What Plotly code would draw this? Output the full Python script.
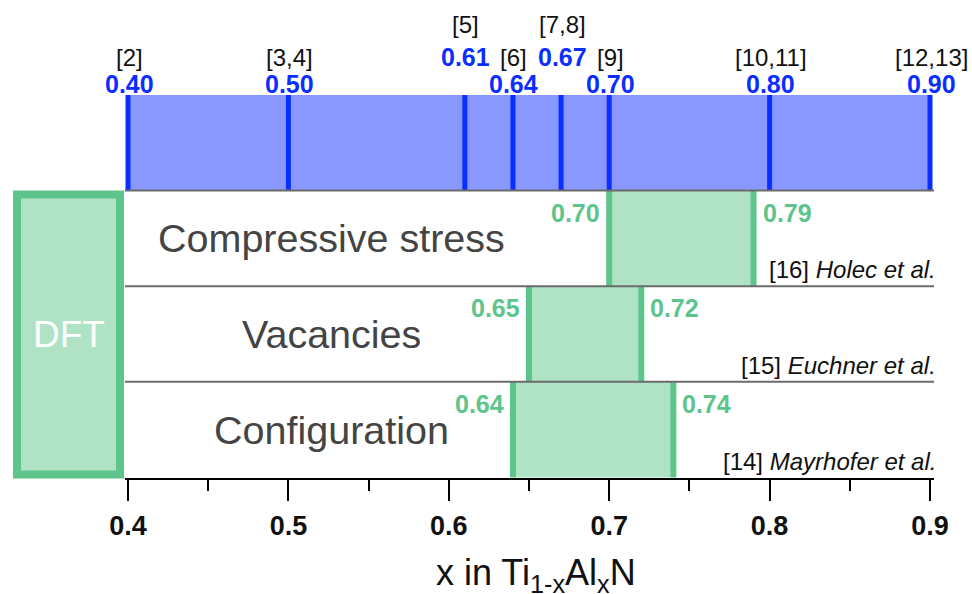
import plotly.graph_objects as go

# ---- data ----
blue_vals = [0.40, 0.50, 0.61, 0.64, 0.67, 0.70, 0.80, 0.90]
blue_refs = ["[2]", "[3,4]", "[5]", "[6]", "[7,8]", "[9]", "[10,11]", "[12,13]"]

categories = ["Compressive stress", "Vacancies", "Configuration"]
range_lo = [0.70, 0.65, 0.64]
range_hi = [0.79, 0.72, 0.74]
cite_refs = ["[16]", "[15]", "[14]"]
cite_auth = ["Holec et al.", "Euchner et al.", "Mayrhofer et al."]

tick_vals = [0.4, 0.5, 0.6, 0.7, 0.8, 0.9]
minor_vals = [0.45, 0.55, 0.65, 0.75, 0.85]

# ---- styling / layout constants ----
W, H = 972, 594
PX_PER_TENTH = 160.4
s = 0.1 / PX_PER_TENTH
X0, X1 = 0.4 - 3 * s, 0.9 + 4 * s
DOM = [125 / W, 934 / W]
U = 95.6           # px per band
TOP = 95           # px of band top
YR = [(H - TOP) / U, -TOP / U]

BLUE_FILL = "#8898FF"
BLUE_LINE = "#0A2EFF"
GREEN_FILL = "#B0E3C5"
GREEN_LINE = "#5DC58B"
GRAY = "#6b6b6b"
FONT = "Liberation Sans, Arial, Helvetica, sans-serif"

fig = go.Figure()

# blue band
fig.add_shape(type="rect", xref="x", yref="y", x0=min(blue_vals), x1=max(blue_vals),
              y0=0, y1=1, fillcolor=BLUE_FILL, line_width=0, layer="below")
bx, by = [], []
for v in blue_vals:
    bx += [v, v, None]
    by += [0, 1, None]
fig.add_trace(go.Scatter(x=bx, y=by, mode="lines", line=dict(color=BLUE_LINE, width=5),
                         hoverinfo="skip", showlegend=False))

# stagger labels of close values
levels = []
for i, v in enumerate(blue_vals):
    close_prev = i > 0 and abs(v - blue_vals[i - 1]) < 0.05
    close_next = i < len(blue_vals) - 1 and abs(blue_vals[i + 1] - v) < 0.05
    if close_prev:
        levels.append(1 - levels[-1])
    elif close_next:
        levels.append(1)
    else:
        levels.append(0)

for v, r, lv in zip(blue_vals, blue_refs, levels):
    vshift = 11.5 if lv == 0 else 38.5
    rshift = 38 if lv == 0 else 71
    fig.add_annotation(x=v, y=0, xref="x", yref="y", text=f"<b>{v:.2f}</b>", showarrow=False,
                       yanchor="middle", xanchor="center", yshift=vshift, xshift=1,
                       font=dict(family=FONT, size=25, color=BLUE_LINE))
    fig.add_annotation(x=v, y=0, xref="x", yref="y", text=r, showarrow=False,
                       yanchor="middle", xanchor="center", yshift=rshift, xshift=1,
                       font=dict(family=FONT, size=24, color="#111111"))

# green ranges
for i, (cat, lo, hi, cr, ca) in enumerate(zip(categories, range_lo, range_hi, cite_refs, cite_auth)):
    r0 = i + 1
    fig.add_trace(go.Scatter(x=[lo, hi, hi, lo, lo], y=[r0, r0, r0 + 1, r0 + 1, r0],
                             mode="lines", fill="toself", fillcolor=GREEN_FILL,
                             line=dict(width=0), hoverinfo="skip", showlegend=False))
    fig.add_trace(go.Scatter(x=[lo, lo, None, hi, hi], y=[r0, r0 + 1, None, r0, r0 + 1],
                             mode="lines", line=dict(color=GREEN_LINE, width=6),
                             hoverinfo="skip", showlegend=False))
    fig.add_annotation(x=lo, y=r0 + 0.23, xref="x", yref="y", text=f"<b>{lo:.2f}</b>",
                       showarrow=False, xanchor="right", yanchor="middle", xshift=-7,
                       font=dict(family=FONT, size=25, color=GREEN_LINE))
    fig.add_annotation(x=hi, y=r0 + 0.23, xref="x", yref="y", text=f"<b>{hi:.2f}</b>",
                       showarrow=False, xanchor="left", yanchor="middle", xshift=7,
                       font=dict(family=FONT, size=25, color=GREEN_LINE))
    fig.add_annotation(x=331 / W, y=r0 + 0.5, xref="paper", yref="y", text=cat,
                       showarrow=False, xanchor="center", yanchor="middle",
                       font=dict(family=FONT, size=39.5, color="#444444"))
    fig.add_annotation(x=0.9, y=r0 + 1 - 0.17, xref="x", yref="y",
                       text=f"{cr} <i>{ca}</i>", showarrow=False,
                       xanchor="right", yanchor="middle", xshift=8,
                       font=dict(family=FONT, size=24, color="#111111"))

# separators
for yy in [1, 2, 3]:
    fig.add_shape(type="line", xref="x domain", yref="y", x0=0, x1=1, y0=yy, y1=yy,
                  line=dict(color=GRAY, width=2), layer="above")

# DFT box
fig.add_shape(type="rect", xref="paper", yref="y", x0=17 / W, x1=120 / W,
              y0=1.04, y1=3.97, fillcolor=GREEN_FILL,
              line=dict(color=GREEN_LINE, width=8), layer="above")
fig.add_annotation(x=69 / W, y=2.5, xref="paper", yref="y", text="DFT", showarrow=False,
                   xanchor="center", yanchor="middle",
                   font=dict(family=FONT, size=37, color="white"))

# axis title
fig.add_annotation(x=536 / W, y=(575 - TOP) / U, xref="paper", yref="y",
                   text="x in Ti<sub>1-x</sub>Al<sub>x</sub>N", showarrow=False,
                   xanchor="center", yanchor="middle",
                   font=dict(family=FONT, size=36, color="#111111"))

fig.update_layout(
    width=W, height=H, margin=dict(l=0, r=0, t=0, b=0, autoexpand=False),
    plot_bgcolor="white", paper_bgcolor="white", showlegend=False,
    xaxis=dict(domain=DOM, range=[X0, X1], anchor="free", position=1 - 479 / H,
               automargin=False,
               showline=True, linecolor="black", linewidth=2, showgrid=False, zeroline=False,
               tickmode="array", tickvals=tick_vals, ticktext=[f"{t:.1f}" for t in tick_vals],
               ticks="outside", ticklen=21, tickwidth=2, tickcolor="black",
               ticklabelstandoff=2,
               tickfont=dict(family=FONT, size=27, color="#111111", weight="bold"),
               minor=dict(tickmode="array", tickvals=minor_vals, ticks="outside", ticklen=11,
                          tickwidth=2, tickcolor="black"),
               fixedrange=True),
    yaxis=dict(range=YR, visible=False, fixedrange=True, automargin=False),
)

fig.write_html("out.html")
